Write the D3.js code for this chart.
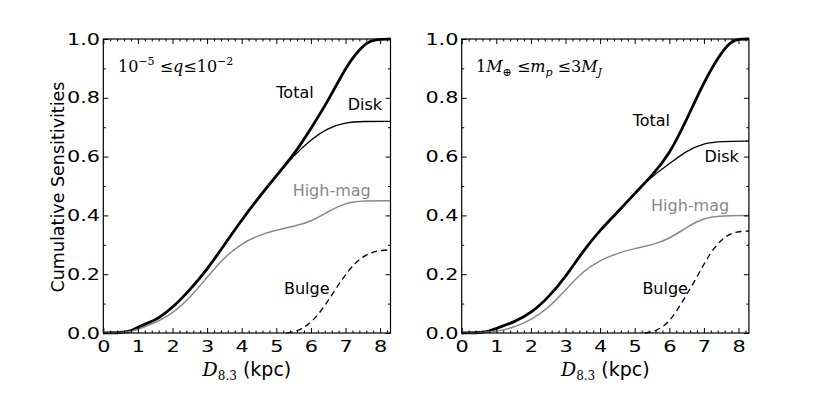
<!DOCTYPE html>
<html>
<head>
<meta charset="utf-8">
<script src="https://cdn.jsdelivr.net/npm/d3@7"></script>
<style>
  body { margin: 0; background: #fff; }
  svg { font-family: "DejaVu Sans", sans-serif; }
</style>
</head>
<body>
<svg id="chart" width="831" height="393"></svg>
<script>
// distance (kpc), cumulative sensitivity
const leftTotal = [[0,0],[0.5,0.001],[0.8,0.006],[1,0.02],[1.3,0.034],[1.6,0.05],[2,0.086],[2.5,0.146],[3,0.216],[3.5,0.3],[4,0.385],[4.5,0.462],[5,0.535],[5.5,0.605],[6,0.695],[6.5,0.79],[7,0.902],[7.3,0.95],[7.6,0.988],[7.85,0.999],[8.3,1]];
const leftDisk = [[0,0],[0.5,0.001],[0.8,0.006],[1,0.02],[1.3,0.034],[1.6,0.05],[2,0.086],[2.5,0.146],[3,0.216],[3.5,0.3],[4,0.385],[4.5,0.462],[5,0.535],[5.5,0.603],[6,0.658],[6.5,0.698],[7,0.716],[7.5,0.72],[8.3,0.72]];
const leftHighMag = [[0,0],[0.5,0.001],[0.8,0.005],[1,0.012],[1.6,0.04],[2,0.067],[2.5,0.118],[3,0.19],[3.5,0.258],[4,0.305],[4.5,0.333],[5,0.35],[5.5,0.362],[6,0.379],[6.5,0.413],[7,0.443],[7.5,0.45],[8.3,0.45]];
const leftBulge = [[5.3,0],[5.6,0.006],[5.9,0.025],[6.2,0.06],[6.5,0.11],[6.8,0.165],[7.1,0.215],[7.4,0.252],[7.7,0.273],[8,0.281],[8.3,0.283]];

const rightTotal = [[0,0],[0.5,0.001],[0.8,0.006],[1,0.016],[1.5,0.036],[2,0.067],[2.5,0.12],[3,0.19],[3.5,0.278],[4,0.35],[4.5,0.41],[5,0.475],[5.5,0.535],[6,0.607],[6.5,0.725],[7,0.855],[7.5,0.955],[7.8,0.993],[8,1],[8.3,1]];
const rightDisk = [[0,0],[0.5,0.001],[0.8,0.006],[1,0.016],[1.5,0.036],[2,0.067],[2.5,0.12],[3,0.19],[3.5,0.278],[4,0.35],[4.5,0.41],[5,0.475],[5.5,0.533],[6,0.575],[6.5,0.62],[7,0.646],[7.5,0.652],[8.3,0.653]];
const rightHighMag = [[0,0],[0.5,0.001],[1,0.005],[1.5,0.018],[2,0.044],[2.5,0.084],[3,0.146],[3.5,0.21],[4,0.248],[4.5,0.271],[5,0.288],[5.5,0.299],[6,0.32],[6.5,0.36],[7,0.392],[7.5,0.399],[8.3,0.4]];
const rightBulge = [[5.3,0],[5.6,0.005],[6,0.035],[6.4,0.11],[6.8,0.19],[7.2,0.278],[7.6,0.33],[7.95,0.345],[8.3,0.347]];

const xMajor = [0, 1, 2, 3, 4, 5, 6, 7, 8];
const yMajor = [0, 0.2, 0.4, 0.6, 0.8, 1.0];
const xMinor = d3.range(1, 42).map(i => i * 0.2).filter(v => Math.abs(v - Math.round(v)) > 1e-6);
const yMinor = [0.1, 0.3, 0.5, 0.7, 0.9];

const labelNames = ["Total", "Disk", "High-mag", "Bulge"];
const leftLabelPos = [[5.54, 0.817], [7.56, 0.776], [6.6, 0.486], [5.88, 0.153]];
const rightLabelPos = [[5.48, 0.722], [7.51, 0.6], [6.6, 0.435], [5.88, 0.152]];

const svg = d3.select("#chart");

const styles = [
  { color: "#000", width: 2.8, dash: null },
  { color: "#000", width: 1.3, dash: null },
  { color: "#888", width: 1.5, dash: null },
  { color: "#000", width: 1.3, dash: "6,4" }
];

function drawPanel(left, series, labelPos) {
  const x = d3.scaleLinear().domain([0, 8.3]).range([left, left + 287.2]);
  const y = d3.scaleLinear().domain([0, 1]).range([333, 39]);
  const g = svg.append("g");

  const line = d3.line()
    .x(d => x(d[0]))
    .y(d => y(d[1]))
    .curve(d3.curveBasis);

  series.forEach((s, i) => {
    g.append("path")
      .attr("d", line(s))
      .attr("fill", "none")
      .attr("stroke", styles[i].color)
      .attr("stroke-width", styles[i].width)
      .attr("stroke-dasharray", styles[i].dash)
      .attr("stroke-linejoin", "round");
  });

  // ticks, all pointing inward
  const addAxis = (axis, transform, labels) => {
    const a = g.append("g").attr("transform", transform).call(axis);
    a.select(".domain").remove();
    a.selectAll("line").attr("stroke", "#000");
    if (!labels) a.selectAll("text").remove();
    return a;
  };

  const bottom = addAxis(d3.axisBottom(x).tickValues(xMajor).tickSize(-5).tickPadding(8).tickFormat(d3.format("d")), `translate(0,${y(0)})`, true);
  addAxis(d3.axisBottom(x).tickValues(xMinor).tickSize(-2.5).tickFormat(""), `translate(0,${y(0)})`, false);
  addAxis(d3.axisTop(x).tickValues(xMajor).tickSize(-5).tickFormat(""), `translate(0,${y(1)})`, false);
  addAxis(d3.axisTop(x).tickValues(xMinor).tickSize(-2.5).tickFormat(""), `translate(0,${y(1)})`, false);
  const leftAx = addAxis(d3.axisLeft(y).tickValues(yMajor).tickSize(-5).tickPadding(2.5).tickFormat(d3.format(".1f")), `translate(${x(0)},0)`, true);
  addAxis(d3.axisLeft(y).tickValues(yMinor).tickSize(-2.5).tickFormat(""), `translate(${x(0)},0)`, false);
  addAxis(d3.axisRight(y).tickValues(yMajor).tickSize(-5).tickFormat(""), `translate(${x(8.3)},0)`, false);
  addAxis(d3.axisRight(y).tickValues(yMinor).tickSize(-2.5).tickFormat(""), `translate(${x(8.3)},0)`, false);

  bottom.selectAll("text")
    .attr("font-size", 16).attr("font-family", "DejaVu Sans").attr("fill", "#000")
    .attr("transform", "scale(1.3,1)");
  leftAx.selectAll("text")
    .attr("font-size", 16).attr("font-family", "DejaVu Sans").attr("fill", "#000")
    .attr("transform", "scale(1.3,1)");

  g.append("rect")
    .attr("x", x(0)).attr("y", y(1))
    .attr("width", x(8.3) - x(0)).attr("height", y(0) - y(1))
    .attr("fill", "none").attr("stroke", "#000").attr("stroke-width", 1.2);

  labelNames.forEach((name, i) => {
    g.append("text")
      .attr("x", x(labelPos[i][0]))
      .attr("y", y(labelPos[i][1]))
      .attr("dy", "0.35em")
      .attr("text-anchor", "middle")
      .attr("font-size", 16)
      .attr("fill", i === 2 ? "#888" : "#000")
      .text(name);
  });

  // x title
  const xt = g.append("text")
    .attr("x", (x(0) + x(8.3)) / 2)
    .attr("y", 376)
    .attr("text-anchor", "middle")
    .attr("font-size", 19);
  xt.append("tspan").attr("font-family", "DejaVu Serif").attr("font-style", "italic").text("D");
  xt.append("tspan").attr("font-family", "DejaVu Serif").attr("font-size", 12).attr("dy", 4).text("8.3");
  xt.append("tspan").attr("dy", -4).text(" (kpc)");

  return { g, x, y };
}

const p1 = drawPanel(103.3, [leftTotal, leftDisk, leftHighMag, leftBulge], leftLabelPos);
const p2 = drawPanel(461.7, [rightTotal, rightDisk, rightHighMag, rightBulge], rightLabelPos);

// y title (left panel only)
svg.append("text")
  .attr("transform", "translate(64,187) rotate(-90)")
  .attr("text-anchor", "middle")
  .attr("font-size", 17.5)
  .text("Cumulative Sensitivities");

// annotations
const a1 = svg.append("text")
  .attr("x", 118).attr("y", 72)
  .attr("font-family", "DejaVu Serif")
  .attr("font-size", 16);
a1.append("tspan").text("10");
a1.append("tspan").attr("font-size", 11).attr("dy", -7).text("\u22125");
a1.append("tspan").attr("dy", 7).text(" \u2264");
a1.append("tspan").attr("font-style", "italic").text("q");
a1.append("tspan").text("\u226410");
a1.append("tspan").attr("font-size", 11).attr("dy", -7).text("\u22122");

const a2 = svg.append("text")
  .attr("x", 476).attr("y", 72)
  .attr("font-family", "DejaVu Serif")
  .attr("font-size", 16);
a2.append("tspan").text("1");
a2.append("tspan").attr("font-style", "italic").text("M");
a2.append("tspan").attr("font-size", 11).attr("dy", 4).text("\u2295");
a2.append("tspan").attr("dy", -4).text(" \u2264");
a2.append("tspan").attr("font-style", "italic").text("m");
a2.append("tspan").attr("font-style", "italic").attr("font-size", 11).attr("dy", 4).text("p");
a2.append("tspan").attr("dy", -4).text(" \u2264");
a2.append("tspan").text("3");
a2.append("tspan").attr("font-style", "italic").text("M");
a2.append("tspan").attr("font-style", "italic").attr("font-size", 11).attr("dy", 4).text("J");
</script>
</body>
</html>
